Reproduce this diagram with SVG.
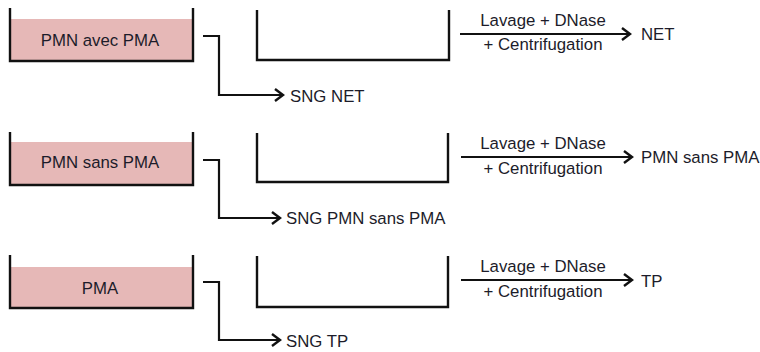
<svg xmlns="http://www.w3.org/2000/svg" width="760" height="352" viewBox="0 0 760 352">
<style>
text{font-family:"Liberation Sans",Arial,sans-serif;font-size:16.8px;fill:#1c1c2a}
.mid{text-anchor:middle}
.wall{fill:none;stroke:#111;stroke-width:2.4;stroke-linejoin:miter}
.liq{fill:#E6B8B7}
.con{fill:none;stroke:#111;stroke-width:2.2;marker-end:url(#ah)}
</style>
<defs>
<marker id="ah" markerUnits="userSpaceOnUse" markerWidth="14" markerHeight="16" refX="10" refY="7" orient="auto">
<path d="M2,1 L10,7 L2,13" fill="none" stroke="#111" stroke-width="2.4"/>
</marker>
</defs>
<g id="tube1">
<rect class="liq" x="10" y="19" width="183" height="42"/>
<path class="wall" d="M10,8 V61 H193 V8"/>
<text class="mid" x="100" y="46">PMN avec PMA</text>
</g>
<g id="tube2">
<rect class="liq" x="10" y="142" width="183" height="43"/>
<path class="wall" d="M10,132 V185 H193 V132"/>
<text class="mid" x="100" y="168">PMN sans PMA</text>
</g>
<g id="tube3">
<rect class="liq" x="10" y="267" width="183" height="41"/>
<path class="wall" d="M10,255 V308 H193 V255"/>
<text class="mid" x="100" y="294">PMA</text>
</g>
<g id="empty1"><path class="wall" d="M257,10 V60 H449 V10"/></g>
<g id="empty2"><path class="wall" d="M257,133 V182 H448 V133"/></g>
<g id="empty3"><path class="wall" d="M257,256 V307 H448 V256"/></g>
<g id="sng1"><text x="290" y="102">SNG NET</text></g>
<g id="sng2"><text x="286" y="224">SNG PMN sans PMA</text></g>
<g id="sng3"><text x="286" y="347">SNG TP</text></g>
<g id="out1"><text x="641" y="40">NET</text></g>
<g id="out2"><text x="641" y="163">PMN sans PMA</text></g>
<g id="out3"><text x="641" y="287">TP</text></g>
<g id="connectors">
<path class="con" d="M203,36 H219 V95 H283"/>
<path class="con" d="M203,160 H219 V218 H280"/>
<path class="con" d="M203,282 H219 V340 H280"/>
<path class="con" d="M460,34 H630"/>
<path class="con" d="M461,157 H632"/>
<path class="con" d="M461,280 H632"/>
<text class="mid" x="543" y="26">Lavage + DNase</text>
<text class="mid" x="543" y="50">+ Centrifugation</text>
<text class="mid" x="543" y="149">Lavage + DNase</text>
<text class="mid" x="543" y="174">+ Centrifugation</text>
<text class="mid" x="543" y="272">Lavage + DNase</text>
<text class="mid" x="543" y="297">+ Centrifugation</text>
</g>
</svg>
